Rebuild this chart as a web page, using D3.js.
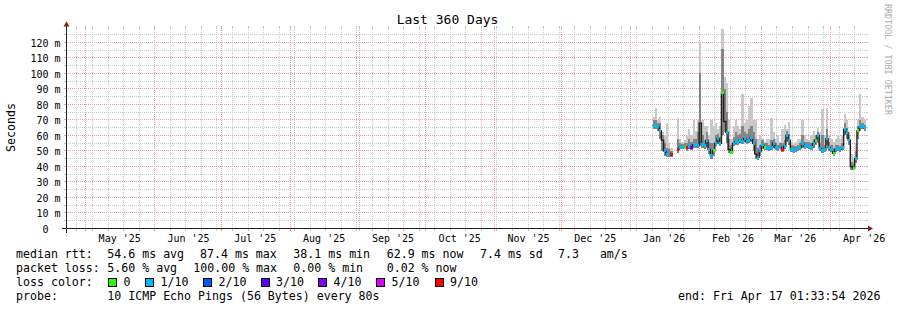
<!DOCTYPE html>
<html>
<head>
<meta charset="UTF-8">
<title>Last 360 Days</title>
<script src="https://d3js.org/d3.v7.min.js"></script>
<style>
  body { margin: 0; background: #fff; }
  text { font-family: "DejaVu Sans Mono", monospace; white-space: pre; }
</style>
</head>
<body>
<div id="svg-container"></div>
<script>
// ---- data, one value per day, starting 2026-01-11 ----
const firstDay = Date.UTC(2026, 0, 11);
const median = [66.5, 66, 65.5, 63, 57, 50, 48, 48.5, 48, null,
  null, 51, 52.5, 52.5, 52.5, 52, 53, 52, 54, 54,
  53.5, 68, 54, 53.5, 57, 51, 47, 50, 55, 58,
  55, 88, 69, 62, 51, 49, 55, 56, 55.5, 57,
  56, 58, 56, 57, 59, 55, 48, 46, 50, 54,
  52, 52, 51.5, 52, 55, 52, 51.5, 52.5, 51, 53,
  60, 57, 51, 50.5, 51, 51.5, 52, 55, 53, 53.5,
  53, 52, 55, 57, 60, 51.5, 50.5, 51, 58, 52,
  51, 48.5, 51, 51.5, 51, 52, 64, 62, 57, 40,
  39, 45, 63, 65.5, 66, 65];
const smokeLow = [64, 64, 63, 58, 50, 47, 46, 46, 46, null,
  null, 49, 51, 51, 51, 50, 51, 50.5, 52, 52,
  52, 53, 52, 51.5, 52, 48, 45, 47, 53, 55,
  53, 60, 62, 55, 49, 48, 53, 54, 54, 55,
  54.5, 56, 54.5, 55, 56, 50, 45, 44, 47, 51,
  50.5, 50.5, 50, 50.5, 52, 50.5, 50, 51, 49.5, 51,
  56, 54, 49.5, 49, 49.5, 50, 50.5, 52, 51.5, 52,
  51.5, 50.5, 52, 54, 55, 50, 49, 49.5, 54, 50,
  49.5, 47, 49.5, 50, 49.5, 50.5, 60, 58, 54, 38,
  37.5, 42, 58, 63, 64, 63];
const smokeHigh = [70, 70, 68, 68, 60, 55, 52, 51, 50, null,
  null, 58, 55, 54.5, 55, 55, 58, 56, 58, 58,
  62, 100, 60, 57, 62, 56, 55, 55, 60, 61,
  59, 116, 90, 75, 58, 54, 59, 62, 60, 61,
  66, 62, 61, 64, 66, 62, 58, 52, 54, 57,
  55, 55, 54, 57, 58, 55, 54, 55, 55, 57,
  63, 61, 54, 53, 53.5, 54, 55, 60, 56, 56,
  55.5, 55, 58, 60, 62, 55, 60, 54, 64, 56,
  54, 52, 54, 54, 53.5, 55, 68, 65, 60, 43,
  42, 50, 66, 70, 68, 67];
const smokeMax = [72, 78, 70, 72, 62, 60, 68, 55, 52, null,
  null, 71, 58, 56, 57, 60, 64, 60, 70, 63,
  70, 120, 70, 66, 66, 60, 70, 66, 68, 64,
  66, 129, 98, 94, 70, 58, 66, 70, 66, 64,
  87, 68, 70, 79, 84, 70, 70, 58, 60, 58,
  56, 58, 58, 71, 62, 58, 60, 56, 64, 66.5,
  64, 68.6, 56, 55, 56, 58, 58, 70, 60, 58,
  57, 60, 63, 60, 65, 62, 77, 60, 78, 60,
  58, 56, 58, 60, 58, 60, 74, 70, 62, 48,
  46, 55, 70, 87, 72, 70];
// lost pings out of 10 (null = no colour mark)
const lossClass = [1, 1, 1, 1, null, 1, 1, 1, 9, null,
  null, 9, 1, 1, 0, 9, 1, 3, 1, 1,
  1, null, 1, 1, 1, 1, 1, 0, 1, 1,
  1, 0, null, 1, null, 0, 1, 1, 1, 1,
  1, 1, 1, 1, 1, 1, null, 1, 1, 1,
  0, 1, 1, 1, 1, 1, 1, 1, 9, 1,
  1, 1, 1, 1, 1, 1, 1, 1, 1, 1,
  1, 1, 1, 0, 1, 1, 1, 1, 1, 1,
  1, 0, 1, 1, 1, 1, 1, 1, 1, null,
  0, 1, 0, 1, 1, 1];

const lossKeys = [0, 1, 2, 3, 4, 5, 9];
const lossLabels = ["0", "1/10", "2/10", "3/10", "4/10", "5/10", "9/10"];
const lossColors = ["#26ff00", "#00b8ff", "#0059ff", "#5e00ff", "#7e00ff", "#dd00ff", "#ff0000"];

const yMajor = [10, 20, 30, 40, 50, 60, 70, 80, 90, 100, 110, 120];
const yMinor = [5, 15, 25, 35, 45, 55, 65, 75, 85, 95, 105, 115, 125];
const yLabels = [0].concat(yMajor);

const rttStats = ["54.6 ms avg", "87.4 ms max", "38.1 ms min", "62.9 ms now", "7.4 ms sd", "7.3   am/s"];
const lossStats = ["5.60 % avg", "100.00 % max", "0.00 % min", "0.02 % now"];
const probeText = "10 ICMP Echo Pings (56 Bytes) every 80s";
const endText = "end: Fri Apr 17 01:33:54 2026";

// ---- layout ----
const tEnd = Date.UTC(2026, 3, 17, 1, 33, 54);
const tStart = tEnd - 360 * 86400000;
const X0 = 66, X1 = 866, Y0 = 228.5, Y1 = 28.5;

const x = d3.scaleUtc().domain([tStart, tEnd]).range([X0, X1]);
const y = d3.scaleLinear().domain([0, 129.03]).range([Y0, Y1]);
const crisp = v => Math.floor(v) + 0.5;

const days = median.map((m, i) => ({
  t0: d3.utcDay.offset(new Date(firstDay), i),
  t1: d3.utcDay.offset(new Date(firstDay), i + 1),
  med: m, lo: smokeLow[i], hi: smokeHigh[i], max: smokeMax[i], loss: lossClass[i]
}));

const svg = d3.select("#svg-container")
  .append("svg")
  .attr("width", 897)
  .attr("height", 310);

svg.append("rect").attr("width", 897).attr("height", 310).attr("fill", "#fff");

const gridCol = "#c8c8c8", mgridCol = "#f09c9c";
const grid = svg.append("g").attr("shape-rendering", "crispEdges").attr("fill", "none");

const weeks = d3.utcSunday.range(new Date(tStart), new Date(tEnd));
const months = d3.utcMonth.range(new Date(tStart), new Date(tEnd));

// dotted grid lines start on whole pixels so the 1-on/1-off dash stays sharp
function hLines(vals, col) {
  grid.append("g").selectAll("line").data(vals).join("line")
    .attr("x1", X0 - 2).attr("x2", X1 + 2)
    .attr("y1", d => crisp(y(d))).attr("y2", d => crisp(y(d)))
    .attr("stroke", col).attr("stroke-dasharray", "1,1");
  grid.append("g").selectAll("path").data(vals).join("path")
    .attr("d", d => `M${X0 - 2},${crisp(y(d))}H${X0}M${X1},${crisp(y(d))}H${X1 + 2}`)
    .attr("stroke", col);
}
function vLines(vals, col) {
  grid.append("g").selectAll("line").data(vals).join("line")
    .attr("x1", d => crisp(x(d))).attr("x2", d => crisp(x(d)))
    .attr("y1", 28).attr("y2", 228)
    .attr("stroke", col).attr("stroke-dasharray", "1,1");
  grid.append("g").selectAll("path").data(vals).join("path")
    .attr("d", d => `M${crisp(x(d))},26V28M${crisp(x(d))},229V231`)
    .attr("stroke", col);
}
hLines(yMinor, gridCol);
vLines(weeks, gridCol);
hLines(yMajor, mgridCol);
vLines(months, mgridCol);

// ---- smoke ----
const valid = days.filter(d => d.med != null);
const smoke = svg.append("g").attr("shape-rendering", "crispEdges");
smoke.append("g").selectAll("rect").data(valid).join("rect")
  .attr("x", d => x(d.t0)).attr("width", d => x(d.t1) - x(d.t0))
  .attr("y", d => y(d.max)).attr("height", d => y(d.lo) - y(d.max))
  .attr("fill", "#c8c8c8");
smoke.append("g").selectAll("rect").data(valid).join("rect")
  .attr("x", d => x(d.t0)).attr("width", d => x(d.t1) - x(d.t0))
  .attr("y", d => y(d.hi)).attr("height", d => y(d.lo) - y(d.hi))
  .attr("fill", "#858585");

// ---- median line, then loss-coloured marks on top ----
const pts = days.flatMap(d => [{ t: d.t0, v: d.med }, { t: d.t1, v: d.med }]);
svg.append("path")
  .datum(pts)
  .attr("fill", "none")
  .attr("stroke", "#202020")
  .attr("stroke-width", 1.4)
  .attr("d", d3.line().defined(p => p.v != null).x(p => x(p.t)).y(p => y(p.v)));

svg.append("g").attr("shape-rendering", "crispEdges")
  .selectAll("rect").data(valid.filter(d => d.loss != null)).join("rect")
  .attr("x", d => x(d.t0)).attr("width", d => x(d.t1) - x(d.t0))
  .attr("y", d => y(d.med) - 1.5).attr("height", 3)
  .attr("fill", d => lossColors[lossKeys.indexOf(d.loss)]);

// ---- axes ----
const axisCol = "#1f1f1f", arrowCol = "#801f1f";
svg.append("path")
  .attr("d", `M${X0 - 4},${Y0}H${X1 + 4}M${X0 + 0.5},${Y0 + 4}V${Y1 - 4}`)
  .attr("stroke", axisCol).attr("fill", "none").attr("shape-rendering", "crispEdges");
svg.append("path")
  .attr("d", `M${X1 + 2},${Y0 - 3}L${X1 + 2},${Y0 + 3}L${X1 + 7},${Y0}Z M${X0 - 2.5},${Y1 - 2}L${X0 + 3.5},${Y1 - 2}L${X0 + 0.5},${Y1 - 7}Z`)
  .attr("fill", arrowCol);

const yAxis = d3.axisLeft(y).tickValues(yLabels).tickSize(0).tickPadding(6)
  .tickFormat(v => v === 0 ? "0\u00a0\u00a0" : v + " m");
svg.append("g").attr("transform", `translate(${X0 + 0.5},0)`).call(yAxis)
  .call(g => g.select(".domain").remove())
  .attr("font-family", "'DejaVu Sans Mono', monospace").attr("font-size", 10)
  .selectAll("text").attr("fill", "#000").attr("dy", "0.36em");

const xAxis = d3.axisBottom(x).tickValues(months.map(m => d3.utcDay.offset(m, 15)))
  .tickSize(0).tickPadding(6.5).tickFormat(d3.utcFormat("%b '%y"));
svg.append("g").attr("transform", `translate(0,${Y0})`).call(xAxis)
  .call(g => g.select(".domain").remove())
  .attr("font-family", "'DejaVu Sans Mono', monospace").attr("font-size", 10)
  .selectAll("text").attr("fill", "#000");

// ---- titles ----
svg.append("text").attr("x", 447.5).attr("y", 24).attr("text-anchor", "middle")
  .attr("font-size", 13).text("Last 360 Days");
svg.append("text").attr("transform", "translate(15,127.5) rotate(-90)")
  .attr("text-anchor", "middle").attr("font-size", 11.6).text("Seconds");
svg.append("text").attr("transform", "translate(884.5,4) rotate(90)")
  .attr("font-size", 8.4).attr("fill", "#aaaaaa").text("RRDTOOL / TOBI OETIKER");

// ---- legend ----
const lg = svg.append("g").attr("font-size", 11.6).attr("fill", "#000");
const statX = [107.3, 200, 293.3, 386.7, 480, 558];
const lossX = [107.3, 193.3, 293.3, 386.7];
lg.append("text").attr("x", 16).attr("y", 258).text("median rtt:");
lg.selectAll(".rtt").data(rttStats).join("text").attr("class", "rtt")
  .attr("x", (d, i) => statX[i]).attr("y", 258).text(d => d);
lg.append("text").attr("x", 16).attr("y", 272).text("packet loss:");
lg.selectAll(".pl").data(lossStats).join("text").attr("class", "pl")
  .attr("x", (d, i) => lossX[i]).attr("y", 272).text(d => d);
lg.append("text").attr("x", 16).attr("y", 286).text("loss color:");
const boxX = [108.5, 145.5, 203.5, 261, 318.5, 376.5, 435];
const key = lg.selectAll(".key").data(lossLabels).join("g").attr("class", "key")
  .attr("transform", (d, i) => `translate(${boxX[i]},0)`);
key.append("rect").attr("x", 0).attr("y", 278.5).attr("width", 8).attr("height", 8)
  .attr("fill", (d, i) => lossColors[i]).attr("stroke", "#000").attr("shape-rendering", "crispEdges");
key.append("text").attr("x", 15).attr("y", 286).text(d => d);
lg.append("text").attr("x", 16).attr("y", 300).text("probe:");
lg.append("text").attr("x", 107.3).attr("y", 300).text(probeText);
lg.append("text").attr("x", 678).attr("y", 300).text(endText);
</script>
</body>
</html>
